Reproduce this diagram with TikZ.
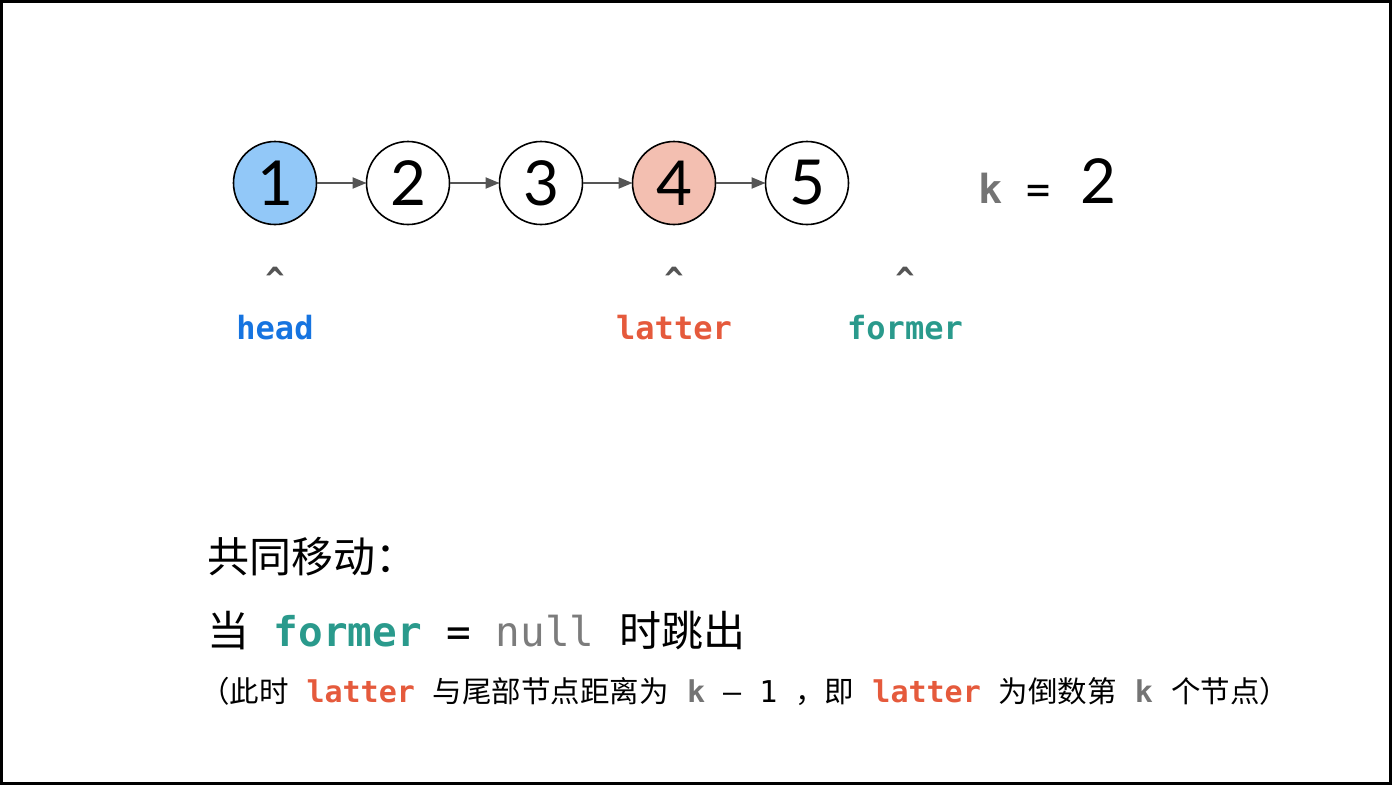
\documentclass[tikz,border=0pt]{standalone}
\usepackage{fontspec}
\setmainfont{Noto Sans CJK SC}
\setmonofont{DejaVu Sans Mono}
\newfontfamily\digitfont{Lato}
\usetikzlibrary{positioning,arrows.meta}
\definecolor{headblue}{HTML}{1674E0}
\definecolor{headfill}{HTML}{92C8F8}
\definecolor{latterred}{HTML}{E55A3C}
\definecolor{latterfill}{HTML}{F3BFB1}
\definecolor{formerteal}{HTML}{2A9A8C}
\definecolor{keygray}{HTML}{747474}
\definecolor{nullgray}{HTML}{7C7C7C}
\definecolor{linkgray}{HTML}{555555}
\begin{document}
\begin{tikzpicture}[x=1pt, y=-1pt, every node/.style={inner sep=0pt, outer sep=0pt}]
	\tikzstyle{listnode}=[circle, draw, line width=1.6pt, minimum size=83pt, font=\digitfont\fontsize{62}{62}\selectfont]
	\tikzstyle{link}=[-{Triangle[length=14pt,width=11pt]}, line width=2.2pt, draw=linkgray]
	\tikzstyle{caret}=[anchor=base, text=linkgray, font=\ttfamily\bfseries\fontsize{32}{32}\selectfont]
	\tikzstyle{pointer}=[anchor=base, font=\ttfamily\bfseries\fontsize{32}{32}\selectfont]
	\useasboundingbox (0,0) rectangle (1392,785);
	\draw[line width=3pt] (1.5,1.5) rectangle (1390.5,783.5);
	% the list
	\node[listnode, fill=headfill] (n1) at (275,183) {1};
	\node[listnode, right=50pt of n1] (n2) {2};
	\node[listnode, right=50pt of n2] (n3) {3};
	\node[listnode, fill=latterfill, right=50pt of n3] (n4) {4};
	\node[listnode, right=50pt of n4] (n5) {5};
	\draw[link] (n1) -- (n2);
	\draw[link] (n2) -- (n3);
	\draw[link] (n3) -- (n4);
	\draw[link] (n4) -- (n5);
	\node[anchor=base west] (keq) at (978,203) {{\ttfamily\fontsize{40}{40}\selectfont\textbf{\textcolor{keygray}{k}} = }\hspace{6pt}{\digitfont\fontsize{62}{62}\selectfont 2}};
	% pointers
	\node[caret] (c1) at (n1 |- 0,290) {\textasciicircum};
	\node[caret] (c4) at (n4 |- 0,290) {\textasciicircum};
	\node[caret] (c6) at (905,290) {\textasciicircum};
	\node[pointer, text=headblue] (head) at (n1 |- 0,339) {head};
	\node[pointer, text=latterred] (latter) at (n4 |- 0,339) {latter};
	\node[pointer, text=formerteal] (former) at (c6 |- 0,339) {former};
	% explanation
	\node[anchor=base west, font=\fontsize{42}{42}\selectfont] (title) at (207,572) {共同移动：};
	\node[anchor=base west, font=\fontsize{42}{42}\selectfont] (rule) at (207,646) {当{\ttfamily\fontsize{41}{41}\selectfont\ \textbf{\textcolor{formerteal}{former}} = \textcolor{nullgray}{null}\ }时跳出};
	\node[anchor=base west, font=\fontsize{29.5}{29.5}\selectfont] (note) at (200,702) {（此时{\ttfamily\fontsize{30}{30}\selectfont\ \textbf{\textcolor{latterred}{latter}}\ }与尾部节点距离为{\ttfamily\fontsize{30}{30}\selectfont\ \textbf{\textcolor{keygray}{k}} – 1\ }，即{\ttfamily\fontsize{30}{30}\selectfont\ \textbf{\textcolor{latterred}{latter}}\ }为倒数第{\ttfamily\fontsize{30}{30}\selectfont\ \textbf{\textcolor{keygray}{k}}\ }个节点）};
\end{tikzpicture}
\end{document}
